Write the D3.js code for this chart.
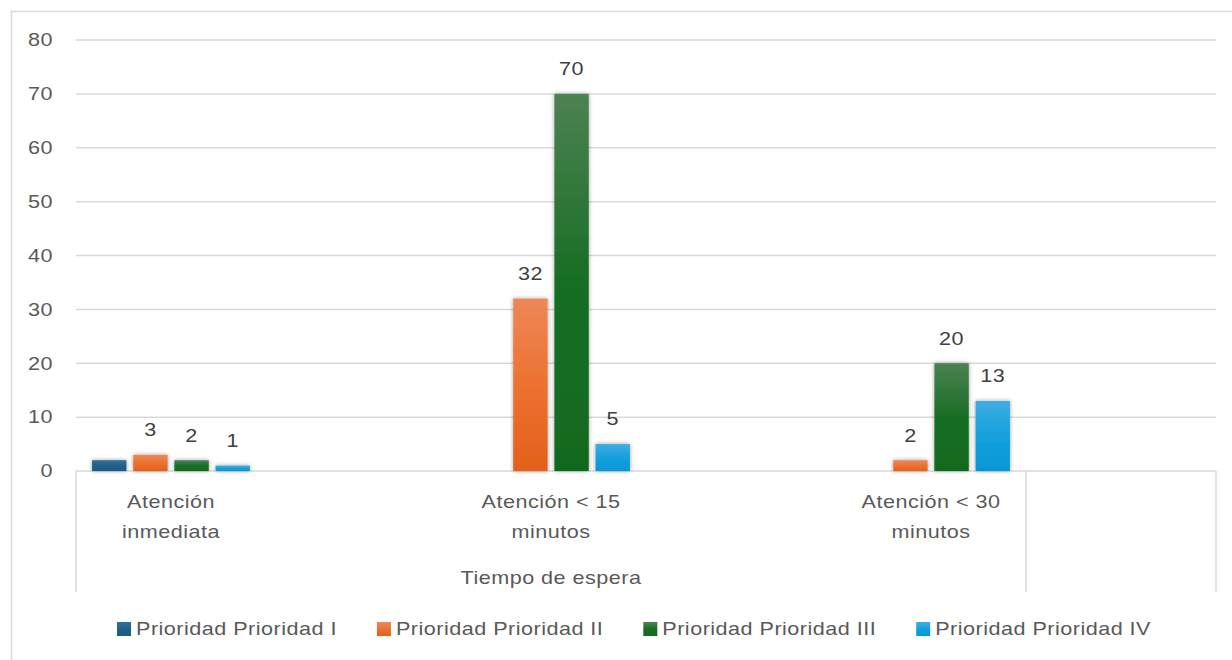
<!DOCTYPE html>
<html>
<head>
<meta charset="utf-8">
<script src="https://cdn.jsdelivr.net/npm/d3@7"></script>
<style>
  html, body { margin: 0; padding: 0; background: #fff; }
  svg { display: block; font-family: "Liberation Sans", Arial, sans-serif; }
</style>
</head>
<body>
<svg id="chart" width="1232" height="660"></svg>
<script>
// Category slots of the axis (blank slots keep the spacing between groups)
const categories = ["Atención inmediata", "", "Atención < 15 minutos", "", "Atención < 30 minutos", ""];
// Outer axis level and how many slots each group covers
const outerGroups = ["Tiempo de espera", ""];
const outerSpans = [5, 1];

const seriesNames = ["Prioridad Prioridad I", "Prioridad Prioridad II", "Prioridad Prioridad III", "Prioridad Prioridad IV"];
const prioridadI   = [2, null, null, null, null, null];
const prioridadII  = [3, null, 32, null, 2, null];
const prioridadIII = [2, null, 70, null, 20, null];
const prioridadIV  = [1, null, 5, null, 13, null];
const seriesValues = [prioridadI, prioridadII, prioridadIII, prioridadIV];
// Series I has its data labels switched off
const showLabels = [false, true, true, true];

const yTicks = [0, 10, 20, 30, 40, 50, 60, 70, 80];

const colorsTop    = ["#2f6f99", "#ee8758", "#4c8252", "#40ade3"];
const colorsMid    = ["#216189", "#ec7131", "#186e25", "#14a0dc"];
const colorsBottom = ["#1a5a83", "#e3601b", "#116a1e", "#0598d7"];

const svg = d3.select("#chart");
const W = 1232, H = 660;
const plot = { left: 76, right: 1216, top: 40, bottom: 471 };

const grid = "#d9d9d9";
const textColor = "#595959";
const FS = 18;      // font size
const SX = 1.2;     // horizontal stretch of the lettering
const LS = 0.4;     // letter spacing

// Places a text item at (x, y), vertically centred, with the wide lettering
function label(parent, x, y, str, anchor, color) {
  const g = parent.append("g").attr("transform", `translate(${x},${y}) scale(${SX},1)`);
  const t = g.append("text")
    .attr("x", 0).attr("y", 0).attr("dy", "0.35em")
    .attr("text-anchor", anchor || "middle")
    .attr("font-size", FS).attr("letter-spacing", LS)
    .attr("fill", color || textColor)
    .text(str);
  return { g, t };
}

// Chart frame
svg.append("rect")
  .attr("x", 11.5).attr("y", 11.5)
  .attr("width", W).attr("height", H)
  .attr("fill", "#fff").attr("stroke", grid).attr("stroke-width", 1.5);

const defs = svg.append("defs");
seriesNames.forEach((s, i) => {
  const g = defs.append("linearGradient")
    .attr("id", "grad" + i).attr("x1", 0).attr("y1", 0).attr("x2", 0).attr("y2", 1);
  g.append("stop").attr("offset", "0%").attr("stop-color", colorsTop[i]);
  g.append("stop").attr("offset", "50%").attr("stop-color", colorsMid[i]);
  g.append("stop").attr("offset", "100%").attr("stop-color", colorsBottom[i]);
});
const f = defs.append("filter").attr("id", "shadow")
  .attr("x", "-30%").attr("y", "-30%").attr("width", "160%").attr("height", "160%");
f.append("feDropShadow").attr("dx", 0).attr("dy", 0).attr("stdDeviation", 2)
  .attr("flood-color", "#000").attr("flood-opacity", 0.38);

// Scales
const y = d3.scaleLinear().domain([0, 80]).range([plot.bottom, plot.top]);
const x0 = d3.scaleBand().domain(d3.range(categories.length))
  .range([plot.left, plot.right]).padding(0);
const x1 = d3.scaleBand().domain(d3.range(seriesNames.length))
  .range([0, x0.bandwidth()]).paddingInner(0.165).paddingOuter(0.39);

// Gridlines
svg.append("g").selectAll("line").data(yTicks.filter(d => d > 0)).join("line")
  .attr("x1", plot.left).attr("x2", plot.right)
  .attr("y1", d => y(d)).attr("y2", d => y(d))
  .attr("stroke", grid).attr("stroke-width", 1.5);

// Value axis labels
const yg = svg.append("g");
yTicks.forEach(v => label(yg, 53, y(v), d3.format("d")(v), "end"));

// Category axis line and group separators
svg.append("line")
  .attr("x1", plot.left).attr("x2", plot.right)
  .attr("y1", plot.bottom).attr("y2", plot.bottom)
  .attr("stroke", grid).attr("stroke-width", 1.5);

let acc = 0;
const bounds = [0];
outerSpans.forEach(s => { acc += s; bounds.push(acc); });
const boundX = d => d < categories.length ? x0(d) : plot.right;
svg.append("g").selectAll("line").data(bounds).join("line")
  .attr("x1", boundX).attr("x2", boundX)
  .attr("y1", plot.bottom).attr("y2", 592)
  .attr("stroke", grid).attr("stroke-width", 1.5);

// Bars
const bars = svg.append("g").attr("filter", "url(#shadow)");
seriesValues.forEach((vals, si) => {
  bars.append("g").selectAll("rect")
    .data(vals.map((v, ci) => ({ v, ci })).filter(d => d.v != null))
    .join("rect")
    .attr("x", d => x0(d.ci) + x1(si))
    .attr("width", x1.bandwidth())
    .attr("y", d => y(d.v))
    .attr("height", d => y(0) - y(d.v))
    .attr("fill", `url(#grad${si})`);
});

// Data labels
const dl = svg.append("g");
seriesValues.forEach((vals, si) => {
  if (!showLabels[si]) return;
  vals.forEach((v, ci) => {
    if (v == null) return;
    label(dl, x0(ci) + x1(si) + x1.bandwidth() / 2, y(v) - 25, v, "middle", "#404040");
  });
});

// Category labels, wrapped to the slot width
const catG = svg.append("g");
const probe = svg.append("text").attr("font-size", FS).attr("letter-spacing", LS);
categories.forEach((c, i) => {
  if (!c) return;
  const cx = x0(i) + x0.bandwidth() / 2;
  const words = c.split(" ");
  const lines = [];
  let line = [];
  words.forEach(w => {
    probe.text(line.concat(w).join(" "));
    if (probe.node().getComputedTextLength() * SX > x0.bandwidth() - 14 && line.length) {
      lines.push(line.join(" "));
      line = [w];
    } else line.push(w);
  });
  lines.push(line.join(" "));
  lines.forEach((l, k) => label(catG, cx, 502 + k * 30, l));
});
probe.remove();

// Outer group labels
outerGroups.forEach((g, i) => {
  if (!g) return;
  const a = boundX(bounds[i]);
  const b = boundX(bounds[i + 1]);
  label(svg, (a + b) / 2, 578, g);
});

// Legend
const legend = svg.append("g");
let lx = 0;
seriesNames.forEach((s, i) => {
  const it = legend.append("g").attr("transform", `translate(${lx},0)`);
  it.append("rect").attr("x", 0).attr("y", -7).attr("width", 14).attr("height", 14)
    .attr("fill", `url(#grad${i})`);
  const { t } = label(it, 19, 0, s, "start");
  const w = 19 + t.node().getComputedTextLength() * SX;
  lx += w + 40;
});
const legendW = lx - 40;
legend.attr("transform", `translate(${634 - legendW / 2},629)`);
</script>
</body>
</html>
